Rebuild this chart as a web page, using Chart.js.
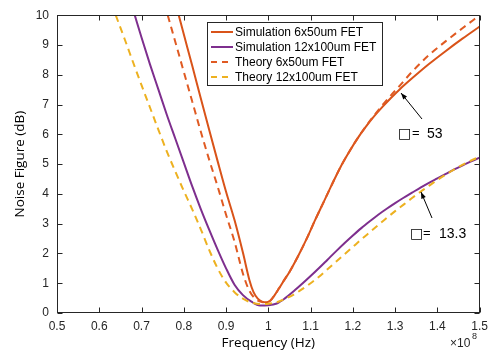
<!DOCTYPE html>
<html>
<head>
<meta charset="utf-8">
<script src="https://cdn.jsdelivr.net/npm/chart.js@4"></script>
<style>
  html, body { margin: 0; padding: 0; background: #fff; }
  #wrap { width: 494px; height: 361px; }
</style>
</head>
<body>
<div id="wrap"><canvas id="nfChart" width="494" height="361"></canvas></div>
<script>
// valores (frequencia em 1e8 Hz, NF em dB)
const freqSim6x50 = [0.788,0.80,0.82,0.84,0.86,0.88,0.90,0.92,0.94,0.955,0.965,0.975,0.985,0.995,1.005,1.015,1.025,1.035,1.05,1.07,1.09,1.11,1.13,1.15,1.17,1.19,1.21,1.23,1.25,1.27,1.29,1.31,1.34,1.38,1.42,1.46,1.50];
const nfSim6x50 = [10,9.36,8.3,7.22,6.15,5.1,4.07,3.12,2.02,1.12,0.7,0.48,0.38,0.36,0.42,0.6,0.82,1.05,1.38,1.9,2.47,3.1,3.7,4.3,4.88,5.38,5.84,6.24,6.6,6.92,7.22,7.5,7.88,8.36,8.8,9.22,9.62];

const freqSim12x100 = [0.684,0.70,0.72,0.74,0.76,0.78,0.80,0.82,0.84,0.86,0.88,0.90,0.92,0.94,0.96,0.98,1.0,1.02,1.04,1.06,1.08,1.10,1.12,1.14,1.16,1.18,1.20,1.22,1.24,1.26,1.28,1.30,1.32,1.34,1.36,1.38,1.40,1.42,1.44,1.46,1.48,1.50];
const nfSim12x100 = [10,9.25,8.35,7.5,6.65,5.85,5.05,4.25,3.5,2.8,2.13,1.5,0.95,0.6,0.38,0.25,0.26,0.32,0.5,0.73,0.98,1.24,1.51,1.79,2.07,2.34,2.6,2.85,3.08,3.3,3.5,3.69,3.87,4.04,4.21,4.37,4.52,4.67,4.82,4.96,5.09,5.22];

const freqTeo6x50 = [0.762,0.78,0.80,0.82,0.84,0.86,0.88,0.90,0.92,0.94,0.955,0.97,0.985,0.995,1.005,1.015,1.025,1.035,1.05,1.07,1.09,1.11,1.13,1.15,1.17,1.19,1.21,1.23,1.25,1.27,1.29,1.31,1.34,1.38,1.42,1.46,1.50];
const nfTeo6x50 = [10,9.1,8.1,7.1,6.1,5.15,4.25,3.3,2.4,1.32,0.75,0.47,0.37,0.36,0.42,0.6,0.82,1.05,1.38,1.9,2.47,3.1,3.7,4.3,4.88,5.38,5.84,6.25,6.63,6.98,7.31,7.62,8.1,8.66,9.13,9.57,10.0];

const freqTeo12x100 = [0.639,0.66,0.68,0.70,0.72,0.74,0.76,0.78,0.80,0.82,0.84,0.86,0.88,0.90,0.92,0.94,0.96,0.98,1.0,1.02,1.04,1.06,1.08,1.10,1.12,1.14,1.16,1.18,1.20,1.22,1.24,1.26,1.28,1.30,1.32,1.34,1.36,1.38,1.40,1.42,1.44,1.46,1.48,1.50];
const nfTeo12x100 = [10,9.2,8.42,7.65,6.9,6.15,5.42,4.75,4.1,3.48,2.82,2.12,1.5,1.02,0.7,0.48,0.35,0.3,0.31,0.36,0.48,0.62,0.8,1.0,1.22,1.47,1.72,1.97,2.22,2.47,2.71,2.95,3.19,3.42,3.64,3.86,4.07,4.27,4.47,4.65,4.82,4.98,5.12,5.25];

const legendLabels = ['Simulation 6x50um FET', 'Simulation 12x100um FET', 'Theory 6x50um FET', 'Theory 12x100um FET'];
const xTickLabels = ['0.5','0.6','0.7','0.8','0.9','1','1.1','1.2','1.3','1.4','1.5'];

const corLaranja = '#D95319';
const corRoxo = '#7E2F8E';
const corVermelho = '#E05A22';
const corAmarelo = '#EDB120';

function pontos(fs, vs) {
    return fs.map((f, i) => ({ x: f, y: vs[i] }));
}

// caixa, ticks para dentro, legenda e anotacoes (estilo matlab)
const decoracao = {
    id: 'decoracao',
    afterDraw(chart) {
        const { ctx, chartArea: a, scales } = chart;
        const sx = scales.x, sy = scales.y;
        ctx.save();
        ctx.strokeStyle = '#262626';
        ctx.lineWidth = 1;
        const L = Math.round(a.left) + 0.5, R = Math.round(a.right) - 0.5;
        const T = Math.round(a.top) + 0.5, B = Math.round(a.bottom) - 0.5;
        ctx.beginPath();
        sx.ticks.forEach(t => {
            const p = Math.round(sx.getPixelForValue(t.value)) + 0.5;
            ctx.moveTo(p, B); ctx.lineTo(p, B - 5);
            ctx.moveTo(p, T); ctx.lineTo(p, T + 5);
        });
        sy.ticks.forEach(t => {
            const p = Math.round(sy.getPixelForValue(t.value)) + 0.5;
            ctx.moveTo(L, p); ctx.lineTo(L + 5, p);
            ctx.moveTo(R, p); ctx.lineTo(R - 5, p);
        });
        ctx.stroke();
        ctx.strokeRect(L, T, R - L, B - T);

        // legenda
        const cores = [corLaranja, corRoxo, corVermelho, corAmarelo];
        const tracos = [[], [], [6, 5], [6, 5]];
        ctx.fillStyle = '#fff';
        ctx.fillRect(207, 22, 175, 63);
        ctx.strokeStyle = '#262626';
        ctx.strokeRect(207.5, 22.5, 175, 63);
        ctx.font = '12px "Liberation Sans", Arial, sans-serif';
        ctx.textBaseline = 'middle';
        legendLabels.forEach((lab, i) => {
            const yy = 32 + i * 15;
            ctx.strokeStyle = cores[i];
            ctx.lineWidth = 2;
            ctx.setLineDash(tracos[i]);
            ctx.beginPath();
            ctx.moveTo(211, yy); ctx.lineTo(233, yy);
            ctx.stroke();
            ctx.setLineDash([]);
            ctx.fillStyle = '#000';
            ctx.fillText(lab, 235, yy + 1);
        });

        // setas
        function seta(x1, y1, x2, y2) {
            const ang = Math.atan2(y2 - y1, x2 - x1);
            ctx.strokeStyle = '#000';
            ctx.fillStyle = '#000';
            ctx.lineWidth = 1;
            ctx.beginPath();
            ctx.moveTo(x1, y1); ctx.lineTo(x2, y2);
            ctx.stroke();
            ctx.beginPath();
            ctx.moveTo(x2, y2);
            ctx.lineTo(x2 - 7 * Math.cos(ang - 0.35), y2 - 7 * Math.sin(ang - 0.35));
            ctx.lineTo(x2 - 7 * Math.cos(ang + 0.35), y2 - 7 * Math.sin(ang + 0.35));
            ctx.closePath();
            ctx.fill();
        }
        seta(422, 119, 401, 93);
        seta(432, 218, 421, 192);

        ctx.fillStyle = '#000';
        ctx.textBaseline = 'alphabetic';
        ctx.font = '14px "DejaVu Sans", sans-serif';
        ctx.fillText('□', 398, 138);
        ctx.fillText('□', 410, 238);
        ctx.font = '13px "Liberation Sans", Arial, sans-serif';
        ctx.fillText('=', 412, 137);
        ctx.fillText('=', 423, 237);
        ctx.font = '14px "Liberation Sans", Arial, sans-serif';
        ctx.fillText('53', 427, 138);
        ctx.fillText('13.3', 439, 238);

        // x10^8
        ctx.fillStyle = '#262626';
        ctx.font = '12px "Liberation Sans", Arial, sans-serif';
        ctx.fillText('\u00d710', 450, 347);
        ctx.font = '9px "Liberation Sans", Arial, sans-serif';
        ctx.fillText('8', 472, 339);
        ctx.restore();
    }
};

const ctx = document.getElementById('nfChart').getContext('2d');
const nfChart = new Chart(ctx, {
    type: 'line',
    data: {
        datasets: [
            { label: legendLabels[0], data: pontos(freqSim6x50, nfSim6x50), borderColor: corLaranja, order: 3 },
            { label: legendLabels[1], data: pontos(freqSim12x100, nfSim12x100), borderColor: corRoxo, order: 2 },
            { label: legendLabels[2], data: pontos(freqTeo6x50, nfTeo6x50), borderColor: corVermelho, borderDash: [7, 5], order: 1 },
            { label: legendLabels[3], data: pontos(freqTeo12x100, nfTeo12x100), borderColor: corAmarelo, borderDash: [7, 5], order: 0 }
        ]
    },
    options: {
        responsive: false,
        animation: false,
        elements: {
            point: { radius: 0 },
            line: { borderWidth: 2, cubicInterpolationMode: 'monotone', fill: false }
        },
        layout: { padding: { top: 10, right: 14, left: 0, bottom: 0 } },
        plugins: { legend: { display: false }, tooltip: { enabled: false } },
        scales: {
            x: {
                type: 'linear',
                min: 0.5, max: 1.5,
                afterFit: s => { s.height = 48; },
                grid: { display: false, drawTicks: false },
                border: { display: false },
                ticks: {
                    stepSize: 0.1,
                    padding: 6,
                    maxRotation: 0,
                    autoSkip: false,
                    color: '#262626',
                    font: { family: '"Liberation Sans", Arial, sans-serif', size: 12 },
                    callback: (v, i) => xTickLabels[i]
                },
                title: {
                    display: true,
                    text: 'Frequency (Hz)',
                    color: '#000',
                    font: { family: '"Open Sans", sans-serif', size: 13.5 },
                    padding: { top: 0, bottom: 10 }
                }
            },
            y: {
                min: 0, max: 10,
                afterFit: s => { s.width = 57; },
                grid: { display: false, drawTicks: false },
                border: { display: false },
                ticks: {
                    stepSize: 1,
                    padding: 8,
                    color: '#262626',
                    font: { family: '"Liberation Sans", Arial, sans-serif', size: 12 }
                },
                title: {
                    display: true,
                    text: 'Noise Figure (dB)',
                    color: '#000',
                    font: { family: '"Open Sans", sans-serif', size: 13.5 },
                    padding: { top: 12, bottom: 0 }
                }
            }
        }
    },
    plugins: [decoracao]
});
</script>
</body>
</html>
